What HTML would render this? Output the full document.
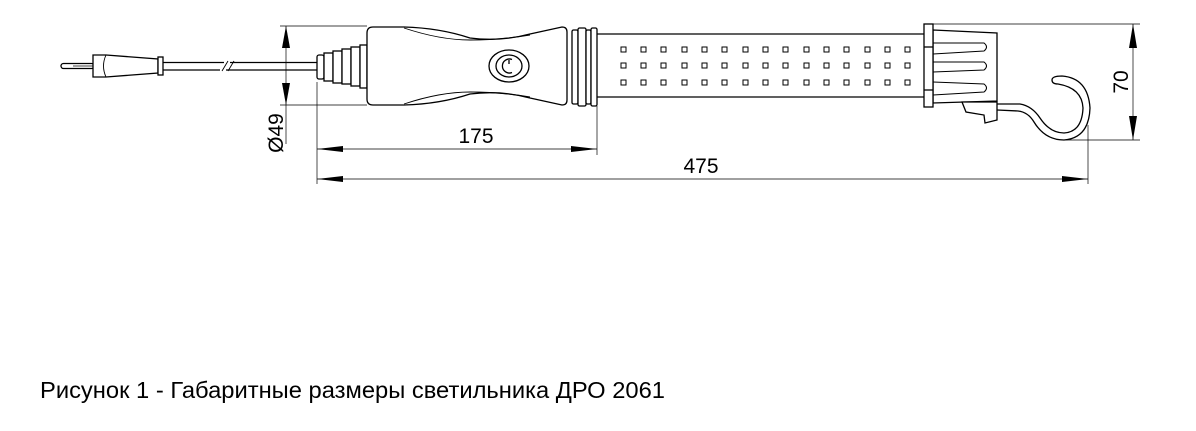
<!DOCTYPE html>
<html><head><meta charset="utf-8"><style>
html,body{margin:0;padding:0;background:#fff;}
svg{display:block;}
text{font-family:"Liberation Sans",Arial,sans-serif;fill:#000;}
</style></head><body>
<svg width="1196" height="431" viewBox="0 0 1196 431" xmlns="http://www.w3.org/2000/svg">
<g fill="none" stroke="#000" stroke-width="1.3">
<rect x="61" y="63.5" width="33" height="5" rx="2.5" fill="#fff"/>
<line x1="73" y1="66" x2="94" y2="66" stroke-width="0.8"/>
<path d="M93 55 L106 55 L158 59 L158 73 L106 77 L93 77 Z" fill="#fff"/>
<path d="M106 55 Q101 66 106 77" stroke-width="0.9"/>
<rect x="158" y="57" width="5" height="18" fill="#fff"/>
<line x1="163" y1="62.5" x2="224" y2="62.5"/><line x1="163" y1="70" x2="220" y2="70"/>
<line x1="230" y1="62.5" x2="318" y2="62.5"/><line x1="226" y1="70" x2="318" y2="70"/>
<line x1="222" y1="71" x2="228" y2="61" stroke-width="0.9"/><line x1="228" y1="71" x2="234" y2="61" stroke-width="0.9"/>
<rect x="317" y="55" width="7" height="24" rx="2" fill="#fff"/>
<rect x="324" y="53" width="9" height="28" fill="#fff"/>
<rect x="333" y="51" width="9" height="32" fill="#fff"/>
<rect x="342" y="49" width="9" height="35" fill="#fff"/>
<rect x="351" y="47" width="9" height="39" fill="#fff"/>
<rect x="360" y="45" width="7" height="43" fill="#fff"/>
<path d="M373 27 L404 27 Q440 28 470 38 Q500 42 530 34 L562 27 Q567 27 567 32 L567 100 Q567 105 562 105 L530 98 Q500 90 470 94 Q440 104 404 105 L373 105 Q367 105 367 99 L367 33 Q367 27 373 27 Z" fill="#fff"/>
<path d="M404 28 Q440 40 470 40 Q500 40 530 35" stroke-width="0.9"/>
<path d="M404 104 Q440 92 470 92 Q500 92 530 97" stroke-width="0.9"/>
<ellipse cx="509" cy="66" rx="20" ry="16"/>
<ellipse cx="509" cy="66" rx="13" ry="11"/>
<path d="M512 59.5 A7 7 0 1 0 512 72.5"/>
<line x1="509" y1="60" x2="509" y2="64"/>
<rect x="572" y="30" width="6" height="74" rx="1.5" fill="#fff"/>
<rect x="578" y="28" width="8" height="78" rx="1.5" fill="#fff"/>
<rect x="586" y="30" width="5" height="74" rx="1.5" fill="#fff"/>
<rect x="591" y="28" width="6" height="78" rx="1.5" fill="#fff"/>
<line x1="597" y1="34" x2="926" y2="34"/><line x1="597" y1="97" x2="926" y2="97"/>
<path d="M933 30 L997 33 L997 101 L933 103 Z" fill="#fff"/>
<path d="M933 43 L984 43 Q989 47 984 51 L933 54" stroke-width="1.1"/>
<path d="M933 62 L984 62 Q989 66 984 70 L933 72" stroke-width="1.1"/>
<path d="M933 82 L984 84 Q989 88 984 92 L933 95" stroke-width="1.1"/>
<rect x="924" y="24" width="9" height="83" fill="#fff"/>
<line x1="924" y1="47" x2="933" y2="47"/><line x1="924" y1="90" x2="933" y2="90"/>
<path d="M962 102 L997 102 L997 120 L985 123 L984 115 L966 112 Z" fill="#fff"/>
<path d="M997 110 L1018 111 Q1028 112 1034 122 Q1045 140 1064 140 Q1089 138 1090 108 Q1088 78 1062 76 Q1052 76 1052 80 Q1052 84 1058 84 Q1082 88 1083 108 Q1082 132 1064 133 Q1050 133 1040 118 Q1032 106 1020 104 L997 104"/>
</g>
<g fill="none" stroke="#000" stroke-width="1">
<g id="row">
<rect x="621" y="47" width="5" height="5"/><rect x="641" y="47" width="5" height="5"/><rect x="661" y="47" width="5" height="5"/><rect x="682" y="47" width="5" height="5"/><rect x="702" y="47" width="5" height="5"/><rect x="722" y="47" width="5" height="5"/><rect x="743" y="47" width="5" height="5"/><rect x="763" y="47" width="5" height="5"/><rect x="783" y="47" width="5" height="5"/><rect x="804" y="47" width="5" height="5"/><rect x="824" y="47" width="5" height="5"/><rect x="844" y="47" width="5" height="5"/><rect x="865" y="47" width="5" height="5"/><rect x="885" y="47" width="5" height="5"/><rect x="905" y="47" width="5" height="5"/>
</g>
<use href="#row" y="16"/><use href="#row" y="33"/>
</g>
<g stroke="#000" stroke-width="0.7" fill="none">
<line x1="280" y1="26" x2="367" y2="26"/><line x1="280" y1="105" x2="367" y2="105"/>
<line x1="286" y1="26" x2="286" y2="144"/>
<line x1="317" y1="82" x2="317" y2="184"/>
<line x1="597" y1="106" x2="597" y2="155"/>
<line x1="1088" y1="125" x2="1088" y2="184"/>
<line x1="317" y1="149" x2="597" y2="149"/>
<line x1="317" y1="179" x2="1088" y2="179"/>
<line x1="933" y1="24" x2="1140" y2="24"/><line x1="1062" y1="140" x2="1140" y2="140"/>
<line x1="1133" y1="24" x2="1133" y2="140"/>
</g>
<g fill="#000">
<path d="M286 26 L282 48 L290 48 Z"/><path d="M286 105 L282 83 L290 83 Z"/>
<path d="M317 149 L343 146 L343 152 Z"/><path d="M597 149 L571 146 L571 152 Z"/>
<path d="M317 179 L343 176 L343 182 Z"/><path d="M1088 179 L1062 176 L1062 182 Z"/>
<path d="M1133 24 L1129 48 L1137 48 Z"/><path d="M1133 140 L1129 116 L1137 116 Z"/>
</g>
<text x="476" y="143" font-size="21" text-anchor="middle">175</text>
<text x="701" y="173" font-size="21" text-anchor="middle">475</text>
<text transform="translate(283,133) rotate(-90)" font-size="21" text-anchor="middle">Ø49</text>
<text transform="translate(1128,82) rotate(-90)" font-size="21" text-anchor="middle">70</text>
<text x="40" y="398" font-size="23" textLength="625" lengthAdjust="spacingAndGlyphs">Рисунок 1 - Габаритные размеры светильника ДРО 2061</text>
</svg>
</body></html>
